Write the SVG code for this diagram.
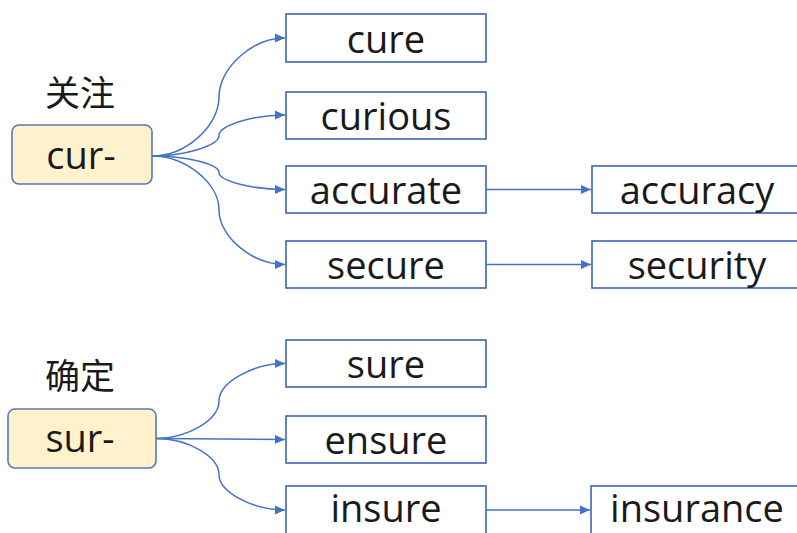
<svg xmlns="http://www.w3.org/2000/svg" width="797" height="533" viewBox="0 0 797 533">
<defs>
<marker id="ah" markerUnits="userSpaceOnUse" markerWidth="12" markerHeight="10" refX="10" refY="5" orient="auto">
<path d="M0,0.6 L10,5 L0,9.4 Z" fill="#4472C4"/>
</marker>
</defs>
<style>
.root rect{fill:#FFF2CC;stroke:#5679B5;stroke-width:1.6}
.word rect{fill:#FFFFFF;stroke:#3F64AE;stroke-width:1.6}
.t{font-family:"Open Sans","Liberation Sans",sans-serif;font-size:38px;fill:#1a1a1a;text-anchor:middle}
.zh{font-family:"Noto Sans CJK SC","Noto Sans",sans-serif;font-size:35px;fill:#1a1a1a;text-anchor:middle}
.c path{fill:none;stroke:#4472C4;stroke-width:1.5;marker-end:url(#ah)}
</style>
<rect width="797" height="533" fill="#FFFFFF"/>
<g class="c" id="connectors">
<path d="M152,156 C185.5,156 219,126.5 219,97 C219,67.5 252.5,38 285,38"/>
<path d="M152,156 C185.5,156 219,145.5 219,135.5 C219,125.5 252.5,115 285,115"/>
<path d="M152,156 C185.5,156 219,164 219,172.5 C219,181 252.5,189.5 285,189.5"/>
<path d="M152,156 C185.5,156 219,183 219,210 C219,237 252.5,264.5 285,264.5"/>
<path d="M486,189.5 L591,189.5"/>
<path d="M486,264.5 L591,264.5"/>
<path d="M156,438.5 C188.5,438.5 219,419.5 219,401 C219,382.5 252.5,363.5 285,363.5"/>
<path d="M156,438.5 L285,439.5"/>
<path d="M156,438.5 C188.5,438.5 219,457 219,474.5 C219,492 252.5,510 285,510"/>
<path d="M486,510 L590,510"/>
</g>
<g id="label-guanzhu"><text class="zh" x="80" y="106">关注</text></g>
<g id="label-queding"><text class="zh" x="80" y="389">确定</text></g>
<g class="root" id="node-cur"><rect x="12" y="125" width="140" height="59" rx="7"/><text class="t" x="81" y="169">cur-</text></g>
<g class="root" id="node-sur"><rect x="8" y="409" width="148" height="59" rx="7"/><text class="t" x="80" y="452">sur-</text></g>
<g class="word" id="node-cure"><rect x="286" y="14" width="200" height="48"/><text class="t" x="386" y="53">cure</text></g>
<g class="word" id="node-curious"><rect x="286" y="92" width="200" height="47"/><text class="t" x="386" y="130">curious</text></g>
<g class="word" id="node-accurate"><rect x="286" y="166" width="200" height="47"/><text class="t" x="386" y="204">accurate</text></g>
<g class="word" id="node-secure"><rect x="286" y="241" width="200" height="47"/><text class="t" x="386" y="279">secure</text></g>
<g class="word" id="node-accuracy"><rect x="592" y="166" width="210" height="47"/><text class="t" x="697" y="204">accuracy</text></g>
<g class="word" id="node-security"><rect x="592" y="241" width="210" height="47"/><text class="t" x="697" y="279">security</text></g>
<g class="word" id="node-sure"><rect x="286" y="340" width="200" height="47"/><text class="t" x="386" y="378">sure</text></g>
<g class="word" id="node-ensure"><rect x="286" y="416" width="200" height="47"/><text class="t" x="386" y="454">ensure</text></g>
<g class="word" id="node-insure"><rect x="286" y="486" width="200" height="60"/><text class="t" x="386" y="522">insure</text></g>
<g class="word" id="node-insurance"><rect x="591" y="486" width="211" height="60"/><text class="t" x="697" y="522">insurance</text></g>
</svg>
